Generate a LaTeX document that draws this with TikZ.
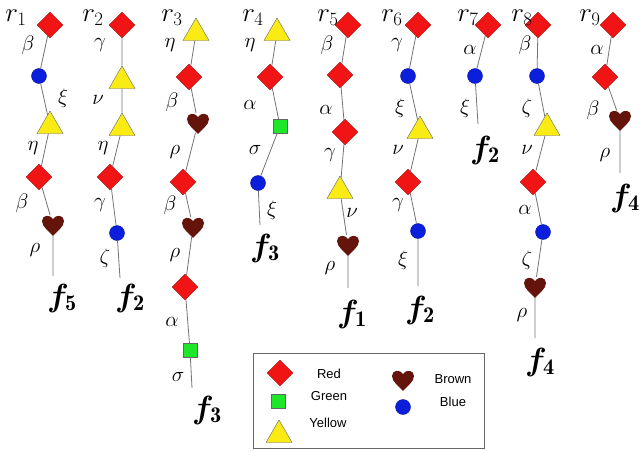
\RequirePackage{fix-cm}
\documentclass[tikz,border=0pt]{standalone}
\usepackage{fontspec}
\usepackage{bm}
\newfontfamily\legfont{Liberation Sans}
\usetikzlibrary{shapes.geometric}
\definecolor{dred}{RGB}{240,20,20}
\definecolor{dyel}{RGB}{250,235,20}
\definecolor{dgrn}{RGB}{30,230,40}
\definecolor{dblu}{RGB}{10,30,220}
\definecolor{dbrn}{RGB}{100,20,10}
\tikzset{
 red/.style={diamond,fill=dred,draw=dred!70!black,inner sep=0pt,minimum size=26pt},
 yel/.style={regular polygon,regular polygon sides=3,fill=dyel,draw=black!60,inner sep=0pt,minimum size=30pt,yshift=-3pt},
 grn/.style={rectangle,fill=dgrn,draw=black!60,inner sep=0pt,minimum size=14pt},
 blu/.style={circle,fill=dblu,draw=dblu!70!black,inner sep=0pt,minimum size=15pt},
 hrt/.style={circle,inner sep=0pt,minimum size=20pt},
 lnk/.style={draw=black!55,line width=0.8pt},
 gl/.style={font=\fontsize{21}{21}\selectfont},
 rl/.style={font=\fontsize{27}{27}\selectfont},
 fl/.style={font=\fontsize{32}{32}\selectfont},
 leg/.style={font=\legfont\fontsize{13}{13}\selectfont},
}
\newcommand{\hrtat}[2]{\node[hrt] (#1) at (#2) {};
 \fill[dbrn,shift={(#2)},yscale=-1] (0,-11) .. controls (-4,-6) and (-11,-2) .. (-11,4) .. controls (-11,10) and (-3,11) .. (0,6) .. controls (3,11) and (11,10) .. (11,4) .. controls (11,-2) and (4,-6) .. (0,-11) -- cycle;}
\begin{document}
\begin{tikzpicture}[x=1pt,y=-1pt]
\useasboundingbox (0,0) rectangle (640,450);
% r1
\node[red] (a1) at (50,25) {}; \node[blu] (a2) at (39,76) {}; \node[yel] (a3) at (50,123) {};
\node[red] (a4) at (39,177) {}; \hrtat{a5}{53,225}; \coordinate (a6) at (53,276);
\draw[lnk] (a1)--(a2)--(a3)--(a4)--(a5)--(a6);
\node[rl] (l1) at (16,18) {$r_1$};
\node[gl] at (28,45) {$\beta$}; \node[gl] at (63,98) {$\xi$}; \node[gl] at (33,148) {$\eta$};
\node[gl] at (22,203) {$\beta$}; \node[gl] at (35,250) {$\rho$};
\node[fl] (f1) at (62,298) {$\bm f_{\mathbf 5}$};
% r2
\node[red] (b1) at (122,25) {}; \node[yel] (b2) at (122,78) {}; \node[yel] (b3) at (122,125) {};
\node[red] (b4) at (110,177) {}; \node[blu] (b5) at (117,233) {}; \coordinate (b6) at (120,278);
\draw[lnk] (b1)--(b2)--(b3)--(b4)--(b5)--(b6);
\node[rl] (l2) at (93,18) {$r_2$};
\node[gl] at (100,45) {$\gamma$}; \node[gl] at (98,100) {$\nu$}; \node[gl] at (103,148) {$\eta$};
\node[gl] at (100,205) {$\gamma$}; \node[gl] at (105,258) {$\zeta$};
\node[fl] (f2) at (130,298) {$\bm f_{\mathbf 2}$};
% r3
\node[yel] (c1) at (196,30) {}; \node[red] (c2) at (189,77) {}; \hrtat{c3}{198,123};
\node[red] (c4) at (183,182) {}; \hrtat{c5}{193,227}; \node[red] (c6) at (185,287) {};
\node[grn] (c7) at (190,350) {}; \coordinate (c8) at (192,388);
\draw[lnk] (c1)--(c2)--(c3)--(c4)--(c5)--(c6)--(c7)--(c8);
\node[rl] (l3) at (172,18) {$r_3$};
\node[gl] at (170,45) {$\eta$}; \node[gl] at (172,102) {$\beta$}; \node[gl] at (175,152) {$\rho$};
\node[gl] at (170,205) {$\beta$}; \node[gl] at (175,255) {$\rho$}; \node[gl] at (172,322) {$\alpha$};
\node[gl] at (178,377) {$\sigma$};
\node[fl] (f3) at (207,410) {$\bm f_{\mathbf 3}$};
% r4
\node[yel] (d1) at (277,30) {}; \node[red] (d2) at (270,77) {}; \node[grn] (d3) at (280,126) {};
\node[blu] (d4) at (258,183) {}; \coordinate (d5) at (260,225);
\draw[lnk] (d1)--(d2)--(d3)--(d4)--(d5);
\node[rl] (l4) at (253,18) {$r_4$};
\node[gl] at (250,45) {$\eta$}; \node[gl] at (250,105) {$\alpha$}; \node[gl] at (255,150) {$\sigma$};
\node[gl] at (272,210) {$\xi$};
\node[fl] (f4) at (265,248) {$\bm f_{\mathbf 3}$};
% r5
\node[red] (e1) at (348,25) {}; \node[red] (e2) at (340,75) {}; \node[red] (e3) at (345,132) {};
\node[yel] (e4) at (340,188) {}; \hrtat{e5}{348,245}; \coordinate (e6) at (348,288);
\draw[lnk] (e1)--(e2)--(e3)--(e4)--(e5)--(e6);
\node[rl] (l5) at (328,18) {$r_5$};
\node[gl] at (327,45) {$\beta$}; \node[gl] at (326,110) {$\alpha$}; \node[gl] at (330,155) {$\gamma$};
\node[gl] at (352,213) {$\nu$}; \node[gl] at (330,268) {$\rho$};
\node[fl] (f5) at (352,314) {$\bm f_{\mathbf 1}$};
% r6
\node[red] (g1) at (418,25) {}; \node[blu] (g2) at (408,76) {}; \node[yel] (g3) at (420,128) {};
\node[red] (g4) at (408,182) {}; \node[blu] (g5) at (418,231) {}; \coordinate (g6) at (418,286);
\draw[lnk] (g1)--(g2)--(g3)--(g4)--(g5)--(g6);
\node[rl] (l6) at (392,18) {$r_6$};
\node[gl] at (397,45) {$\gamma$}; \node[gl] at (400,108) {$\xi$}; \node[gl] at (398,150) {$\nu$};
\node[gl] at (398,205) {$\gamma$}; \node[gl] at (403,260) {$\xi$};
\node[fl] (f6) at (420,310) {$\bm f_{\mathbf 2}$};
% r7
\node[red] (h1) at (488,25) {}; \node[blu] (h2) at (475,76) {}; \coordinate (h3) at (478,124);
\draw[lnk] (h1)--(h2)--(h3);
\node[rl] (l7) at (468,18) {$r_7$};
\node[gl] at (470,50) {$\alpha$}; \node[gl] at (465,108) {$\xi$};
\node[fl] (f7) at (485,150) {$\bm f_{\mathbf 2}$};
% r8
\node[red] (k1) at (538,25) {}; \node[blu] (k2) at (537,76) {}; \node[yel] (k3) at (547,125) {};
\node[red] (k4) at (533,182) {}; \node[blu] (k5) at (543,232) {}; \hrtat{k6}{535,287};
\coordinate (k7) at (535,338);
\draw[lnk] (k1)--(k2)--(k3)--(k4)--(k5)--(k6)--(k7);
\node[rl] (l8) at (522,18) {$r_8$};
\node[gl] at (525,45) {$\beta$}; \node[gl] at (527,108) {$\zeta$}; \node[gl] at (527,150) {$\nu$};
\node[gl] at (525,210) {$\alpha$}; \node[gl] at (527,260) {$\zeta$}; \node[gl] at (522,315) {$\rho$};
\node[fl] (f8) at (540,362) {$\bm f_{\mathbf 4}$};
% r9
\node[red] (m1) at (613,25) {}; \node[red] (m2) at (605,77) {}; \hrtat{m3}{620,120};
\coordinate (m4) at (620,173);
\draw[lnk] (m1)--(m2)--(m3)--(m4);
\node[rl] (l9) at (590,18) {$r_9$};
\node[gl] at (597,50) {$\alpha$}; \node[gl] at (593,110) {$\beta$}; \node[gl] at (605,155) {$\rho$};
\node[fl] (f9) at (625,198) {$\bm f_{\mathbf 4}$};
% legend
\node[draw=black!60,line width=0.8pt,fill=white,minimum width=231pt,minimum height=95pt] (lg) at (368.5,400.5) {};
\node[red] (x1) at (280,373) {}; \node[leg] at (329,374) {Red};
\node[grn] (x2) at (278,401) {}; \node[leg] at (329,396) {Green};
\node[yel] (x3) at (279,432) {}; \node[leg] at (328,423) {Yellow};
\hrtat{x4}{403,380}; \node[leg] at (453,379) {Brown};
\node[blu] (x5) at (403,407) {}; \node[leg] at (453,402) {Blue};
\end{tikzpicture}
\end{document}
